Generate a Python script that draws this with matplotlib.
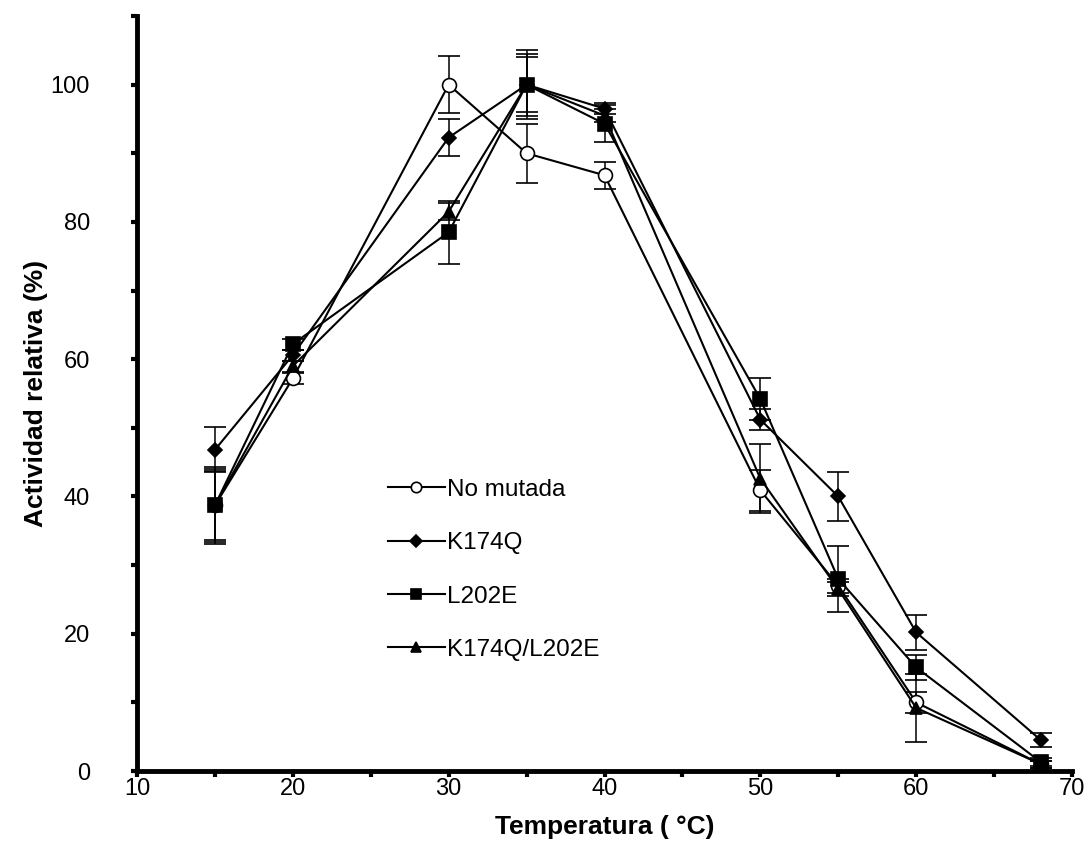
"""Actividad relativa vs temperatura para las cuatro variantes."""
import matplotlib
matplotlib.use("Agg")
import matplotlib.pyplot as plt
from matplotlib.ticker import MultipleLocator

plt.rcParams['font.family'] = ['Liberation Sans', 'DejaVu Sans']

temp = [15, 20, 30, 35, 40, 50, 55, 60, 68]

no_mutada = [38.7, 57.2, 100.0, 90.0, 86.8, 40.9, 27.0, 10.0, 1.0]
no_mutada_err = [5.0, 0.8, 4.2, 4.3, 2.0, 3.0, 1.0, 1.5, 0.5]

k174q = [46.8, 60.6, 92.3, 100.0, 96.5, 51.2, 40.0, 20.2, 4.5]
k174q_err = [3.3, 0.8, 2.7, 4.5, 0.8, 1.5, 3.6, 2.5, 1.0]

l202e = [38.7, 62.2, 78.5, 100.0, 94.3, 54.2, 28.0, 15.1, 1.3]
l202e_err = [5.3, 0.8, 4.6, 5.0, 2.7, 3.0, 4.8, 1.8, 0.6]

doble = [38.7, 59.0, 81.5, 100.0, 95.5, 42.6, 26.5, 9.2, 1.0]
doble_err = [5.6, 0.8, 1.2, 4.0, 1.0, 5.0, 1.0, 4.9, 0.5]

series = [
    ("No mutada", no_mutada, no_mutada_err, "o", "white"),
    ("K174Q", k174q, k174q_err, "D", "black"),
    ("L202E", l202e, l202e_err, "s", "black"),
    ("K174Q/L202E", doble, doble_err, "^", "black"),
]
msizes = {"o": 10, "D": 7.5, "s": 9.5, "^": 9}

fig = plt.figure(figsize=(10.89, 8.57), dpi=100)
ax = fig.add_axes([0.1258, 0.1003, 0.8586, 0.881])

handles = []
labels = []
for name, vals, err, mk, fc in series:
    c = ax.errorbar(temp, vals, yerr=err, color="black", ecolor="black",
                    elinewidth=1.1, capsize=8, capthick=1.1, linewidth=1.5,
                    marker=mk, markersize=msizes[mk], markerfacecolor=fc,
                    markeredgecolor="black", markeredgewidth=1.2)
    handles.append(c[0])
    labels.append(name)

ax.set_xlim(10, 70)
ax.set_ylim(0, 110)
ax.xaxis.set_major_locator(MultipleLocator(10))
ax.xaxis.set_minor_locator(MultipleLocator(5))
ax.yaxis.set_minor_locator(MultipleLocator(10))
ax.set_yticks([0, 20, 40, 60, 80, 100])

for side in ["top", "right"]:
    ax.spines[side].set_visible(False)
for side in ["left", "bottom"]:
    ax.spines[side].set_linewidth(3.5)

ax.tick_params(which="both", direction="out", length=4, width=3,
               labelsize=17)
ax.tick_params(axis="y", pad=30)
ax.tick_params(axis="x", pad=1)

ax.set_xlabel("Temperatura ( \u00b0C)", fontsize=19, fontweight="bold",
              labelpad=11)
ax.set_ylabel("Actividad relativa (%)", fontsize=19, fontweight="bold",
              labelpad=2)

ax.legend(handles, labels, loc="upper left", bbox_to_anchor=(0.268, 0.387),
          frameon=False, fontsize=17.5, handlelength=2.35, labelspacing=1.29,
          markerscale=0.75, handletextpad=0.08, borderpad=0,
          borderaxespad=0)

fig.savefig("out.png", dpi=100)
